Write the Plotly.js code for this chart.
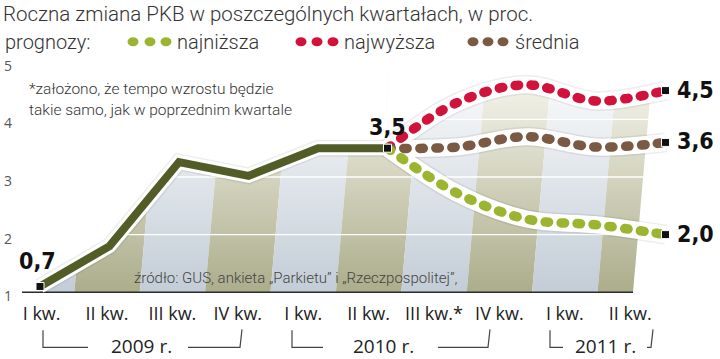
<!DOCTYPE html>
<html><head><meta charset="utf-8">
<script src="https://cdn.plot.ly/plotly-3.0.1.min.js"></script>
<style>html,body{margin:0;padding:0;background:#fff}#chart{width:720px;height:359px}</style>
</head><body><div id="chart"></div>
<script>
// ---------- data ----------
const quarterLabels = ['I kw.','II kw.','III kw.','IV kw.','I kw.','II kw.','III kw.*','IV kw.','I kw.','II kw.'];
const histQ = [0,1,2,3,4,5];
const histValues = [1.1,1.8,3.26,3.02,3.5,3.5];
const forecastQ = [5,6,7,8,9];
const forecastLow = [3.5,2.72,2.27,2.17,2.0];
const forecastHigh = [3.5,4.29,4.6,4.32,4.5];
const forecastAvg = [3.5,3.52,3.7,3.52,3.6];
const startLabel = '0,7';
const lastActualLabel = '3,5';
const endLabels = ['4,5','3,6','2,0'];
const yTicks = [1,2,3,4,5];
const gridValues = [2,3,4];
const yearLabels = ['2009 r.','2010 r.','2011 r.'];
const legendNames = ['najniższa','najwyższa','średnia'];
const titleText = 'Roczna zmiana PKB w poszczególnych kwartałach, w proc.';
const legendLead = 'prognozy:';
const noteLines = ['*założono, że tempo wzrostu będzie','takie samo, jak w poprzednim kwartale'];
const sourceText = 'źródło: GUS, ankieta „Parkietu” i „Rzeczpospolitej”,';

// ---------- geometry / style ----------
const W=720,H=359,L=22,R=20,T=56.25,B=61.25;
const plotW=W-L-R, plotH=H-T-B;
const lab0=41.6, labStep=65.4;      // label axis: px = lab0 + labStep*k
const dat0=40, datStep=69.5;        // data axis:  px = dat0 + datStep*k
const yMin=0.9, yMax=5.1;
const pxX = p => (p-L)/plotW;
const pxY = p => (H-B-p)/plotH;
const labK = p => (p-lab0)/labStep;

const GREEN='#9bb531', RED='#d1133b', BROWN='#7b5a45', OLIVE='#525c27';
const numFont={family:'"Liberation Sans Narrow","DejaVu Sans Condensed","Arial Narrow",sans-serif',size:23,color:'#111',weight:'bold'};
const lightFont={family:'Roboto, "Open Sans", sans-serif',weight:300};

const traces=[];
// stripes (decoration aligned to the label axis)
const slantPerUnit = 57.5*0.088/labStep;
const firstEdge = labK(dat0), lastEdge = labK(633);
quarterLabels.forEach((q,i)=>{
  const lb = i===0?firstEdge:i-0.5, rb = i===quarterLabels.length-1?lastEdge:i+0.5;
  const s=(yMax-1)*slantPerUnit;
  const olive = i%2===1;
  traces.push({x:[lb,rb,rb+s,(i===0?lb:lb+s),lb],y:[1,1,yMax,yMax,1],mode:'lines',fill:'toself',
    line:{width:0},hoverinfo:'skip',showlegend:false,xaxis:'x',yaxis:'y',
    fillgradient:{type:'vertical',start:1,stop:yMax,
      colorscale: olive?[[0,'#acad8b'],[1,'#fdfcf7']]:[[0,'#c3cdd7'],[1,'#ffffff']]}});
});
// white grid lines over the stripes
gridValues.forEach(g=>traces.push({x:[firstEdge,9.4],y:[g,g],mode:'lines',line:{color:'#ffffff',width:1.4},hoverinfo:'skip',showlegend:false,xaxis:'x',yaxis:'y'}));
// base line
traces.push({x:[labK(L),lastEdge],y:[1,1],mode:'lines',line:{color:'#2b2b2b',width:1.6},hoverinfo:'skip',showlegend:false,xaxis:'x',yaxis:'y'});
// white mask above the envelope
function mask(xs,ys,shape){
  traces.push({x:xs,y:ys,mode:'lines',line:{width:0,shape:shape},hoverinfo:'skip',showlegend:false,xaxis:'x2',yaxis:'y'});
  traces.push({x:xs,y:xs.map(()=>yMax),mode:'lines',fill:'tonexty',fillcolor:'#ffffff',line:{width:0,shape:shape},hoverinfo:'skip',showlegend:false,xaxis:'x2',yaxis:'y'});
}
mask(histQ,histValues,'linear');
mask(forecastQ,forecastHigh,'spline');
// shadows and halos
const fcs=[[forecastHigh,RED,'fchigh'],[forecastAvg,BROWN,'fcavg'],[forecastLow,GREEN,'fclow']];
traces.push({x:histQ,y:histValues,mode:'lines',line:{color:'rgba(0,0,0,0.07)',width:17},hoverinfo:'skip',showlegend:false,xaxis:'x2',yaxis:'y'});
fcs.forEach(f=>traces.push({x:forecastQ,y:f[0],mode:'lines',line:{color:'rgba(0,0,0,0.07)',width:20,shape:'spline'},hoverinfo:'skip',showlegend:false,xaxis:'x2',yaxis:'y'}));
traces.push({x:histQ,y:histValues,mode:'lines',line:{color:'#ffffff',width:14},hoverinfo:'skip',showlegend:false,xaxis:'x2',yaxis:'y'});
fcs.forEach(f=>traces.push({x:forecastQ,y:f[0],mode:'lines',line:{color:'#ffffff',width:17,shape:'spline'},hoverinfo:'skip',showlegend:false,xaxis:'x2',yaxis:'y'}));
// lines
traces.push({x:histQ,y:histValues,mode:'lines',line:{color:OLIVE,width:8},hoverinfo:'skip',showlegend:false,xaxis:'x2',yaxis:'y'});
fcs.forEach(f=>traces.push({uid:f[2],x:forecastQ,y:f[0],mode:'lines',line:{color:f[1],width:9.5,shape:'spline',dash:'3.5px,12.5px'},hoverinfo:'skip',showlegend:false,xaxis:'x2',yaxis:'y'}));
// end markers
const last=forecastQ.length-1;
traces.push({x:[histQ[0],histQ[histQ.length-1],forecastQ[last],forecastQ[last],forecastQ[last]],
  y:[histValues[0],histValues[histValues.length-1],forecastHigh[last],forecastAvg[last],forecastLow[last]],
  mode:'markers',marker:{symbol:'square',size:8,color:'#111',line:{color:'#fff',width:1}},hoverinfo:'skip',showlegend:false,xaxis:'x2',yaxis:'y'});

// ---------- annotations ----------
const ann=[];
ann.push({xref:'x2',yref:'y',x:histQ[0],y:histValues[0],text:startLabel,showarrow:false,font:numFont,xshift:-3,yshift:25});
ann.push({xref:'x2',yref:'y',x:histQ[histQ.length-1],y:histValues[histValues.length-1],text:lastActualLabel,showarrow:false,font:numFont,yshift:21});
[forecastHigh,forecastAvg,forecastLow].forEach((s,i)=>ann.push({xref:'x2',yref:'y',x:forecastQ[last],y:s[last],text:endLabels[i],showarrow:false,font:numFont,xanchor:'left',xshift:9,yshift:1}));
ann.push({xref:'paper',yref:'paper',x:pxX(3),y:pxY(42),xanchor:'left',yanchor:'middle',text:legendLead,showarrow:false,font:Object.assign({size:20,color:'#333'},lightFont)});
const legendTextX=[175,342,513];
legendNames.forEach((n,i)=>ann.push({xref:'paper',yref:'paper',x:pxX(legendTextX[i]),y:pxY(42),xanchor:'left',yanchor:'middle',text:n,showarrow:false,font:Object.assign({size:20,color:'#333'},lightFont)}));
noteLines.forEach((t,i)=>ann.push({xref:'paper',yref:'paper',x:pxX(27),y:pxY(89+i*21),xanchor:'left',yanchor:'middle',text:t,showarrow:false,font:Object.assign({size:15.5,color:'#333'},lightFont)}));
ann.push({xref:'paper',yref:'paper',x:pxX(132),y:pxY(278),xanchor:'left',yanchor:'middle',text:sourceText,showarrow:false,font:Object.assign({size:15,color:'#444'},lightFont)});
const yearCenters=[141,383,605];
yearLabels.forEach((t,i)=>ann.push({xref:'paper',yref:'paper',x:pxX(yearCenters[i]),y:pxY(346),xanchor:'center',yanchor:'middle',text:t,showarrow:false,font:{family:'"Open Sans",sans-serif',size:19,color:'#222'}}));

// ---------- shapes: legend dots and year brackets ----------
const shapes=[];
const legendDots=[[133,150,166],[301,317,333],[473,488,503]];
const legendCols=[GREEN,RED,BROWN];
legendDots.forEach((d,i)=>d.forEach(c=>shapes.push({type:'circle',xref:'paper',yref:'paper',x0:pxX(c-5.5),x1:pxX(c+5.5),y0:pxY(46.5),y1:pxY(37.5),fillcolor:legendCols[i],line:{width:0}})));
const brackets=[[43,88,188,242],[292,323,438,490],[550,563,647,653]];
const bl={color:'#444',width:1.2};
brackets.forEach(b=>{
  shapes.push({type:'path',xref:'paper',yref:'paper',path:`M${pxX(b[0])},${pxY(330)} L${pxX(b[0])},${pxY(347)} L${pxX(b[1])},${pxY(347)}`,line:bl});
  shapes.push({type:'path',xref:'paper',yref:'paper',path:`M${pxX(b[2])},${pxY(347)} L${pxX(b[3]-2)},${pxY(347)} L${pxX(b[3])},${pxY(329)}`,line:bl});
});

const layout={
  width:W,height:H,margin:{l:L,r:R,t:T,b:B,pad:0},
  paper_bgcolor:'#fff',plot_bgcolor:'#fff',showlegend:false,
  title:{text:titleText,x:3/W,xanchor:'left',xref:'container',y:1-14/H,yanchor:'middle',yref:'container',
    font:Object.assign({size:20.5,color:'#333'},lightFont)},
  xaxis:{range:[labK(L),labK(W-R)],tickvals:quarterLabels.map((q,i)=>i),ticktext:quarterLabels,
    showgrid:false,zeroline:false,showline:false,ticks:'',ticklabelstandoff:3,
    tickfont:{family:'"Open Sans",sans-serif',size:18,color:'#222'},fixedrange:true},
  xaxis2:{overlaying:'x',range:[(L-dat0)/datStep,(W-R-dat0)/datStep],visible:false,fixedrange:true},
  yaxis:{range:[yMin,yMax],tickvals:yTicks,ticktext:yTicks.map(String),showgrid:false,zeroline:false,showline:false,
    ticks:'',ticklabelstandoff:9,ticklabelshift:4,tickfont:{family:'"Open Sans",sans-serif',size:14,color:'#555'},fixedrange:true},
  annotations:ann,shapes:shapes
};
Plotly.newPlot('chart',traces,layout,{displayModeBar:false,staticPlot:true}).then(()=>{
  document.querySelectorAll('.js-line').forEach(p=>{
    const d=p.style.strokeDasharray;
    if(d && d!=='none' && d!=='') p.style.strokeLinecap='round';
  });
});
</script></body></html>
